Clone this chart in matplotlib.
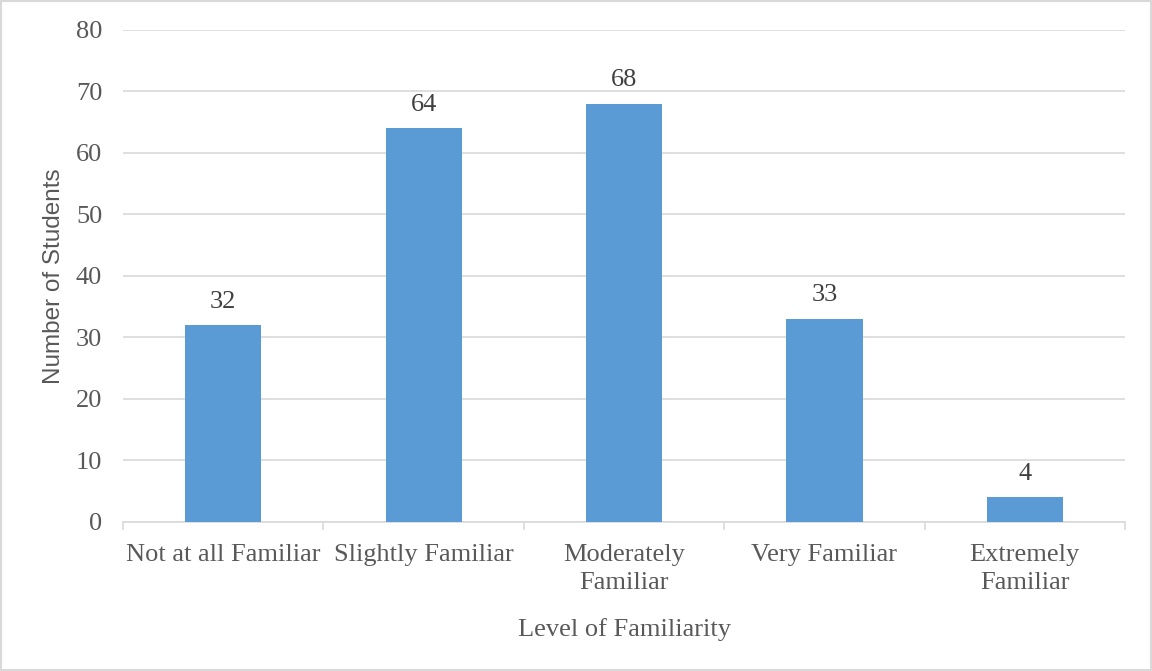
import matplotlib.pyplot as plt
from matplotlib.patches import Rectangle

categories = ["Not at all Familiar", "Slightly Familiar", "Moderately\nFamiliar",
              "Very Familiar", "Extremely\nFamiliar"]
students = [32, 64, 68, 33, 4]
y_ticks = [0, 10, 20, 30, 40, 50, 60, 70, 80]

GRID = "#D9D9D9"
TEXT = "#595959"
BAR = "#5B9BD5"

plt.rcParams.update({
    "font.family": "serif",
    "font.serif": ["Liberation Serif", "DejaVu Serif"],
})

fig = plt.figure(figsize=(11.52, 6.71), dpi=100)
fig.patches.append(Rectangle((0.001, 0.001), 0.998, 0.997, transform=fig.transFigure,
                             fill=False, edgecolor=GRID, linewidth=1.5))
ax = fig.add_axes([0.1068, 0.2221, 0.8698, 0.7332])

x = range(len(categories))
bars = ax.bar(x, students, width=0.38, color=BAR, zorder=3)
for b, v in zip(bars, students):
    ax.annotate(str(v), (b.get_x() + b.get_width() / 2, v), xytext=(0, 17),
                textcoords="offset points", ha="center", va="center",
                fontsize=19, color="#404040")

ax.set_xlim(-0.5, len(categories) - 0.5)
ax.set_ylim(0, 80)
ax.set_yticks(y_ticks)
ax.tick_params(axis="y", length=0, labelsize=19, labelcolor=TEXT, pad=15)
ax.set_xticks(x)
ax.set_xticklabels(categories, linespacing=1.35)
ax.tick_params(axis="x", length=0, labelsize=19, labelcolor=TEXT, pad=16)
ax.set_xticks([i - 0.5 for i in range(len(categories) + 1)], minor=True)
ax.tick_params(axis="x", which="minor", length=6, color=GRID, width=1.2)

ax.yaxis.grid(True, color=GRID, linewidth=1.2, zorder=0)
for s in ["top", "right", "left"]:
    ax.spines[s].set_visible(False)
ax.spines["bottom"].set_color(GRID)
ax.spines["bottom"].set_linewidth(1.2)

ax.set_xlabel("Level of Familiarity", fontsize=19, color=TEXT, labelpad=17)
ax.set_ylabel("Number of Students", fontsize=17.5, color=TEXT,
              family=["Liberation Sans", "DejaVu Sans"], labelpad=8)

fig.savefig("out.png", dpi=100)
